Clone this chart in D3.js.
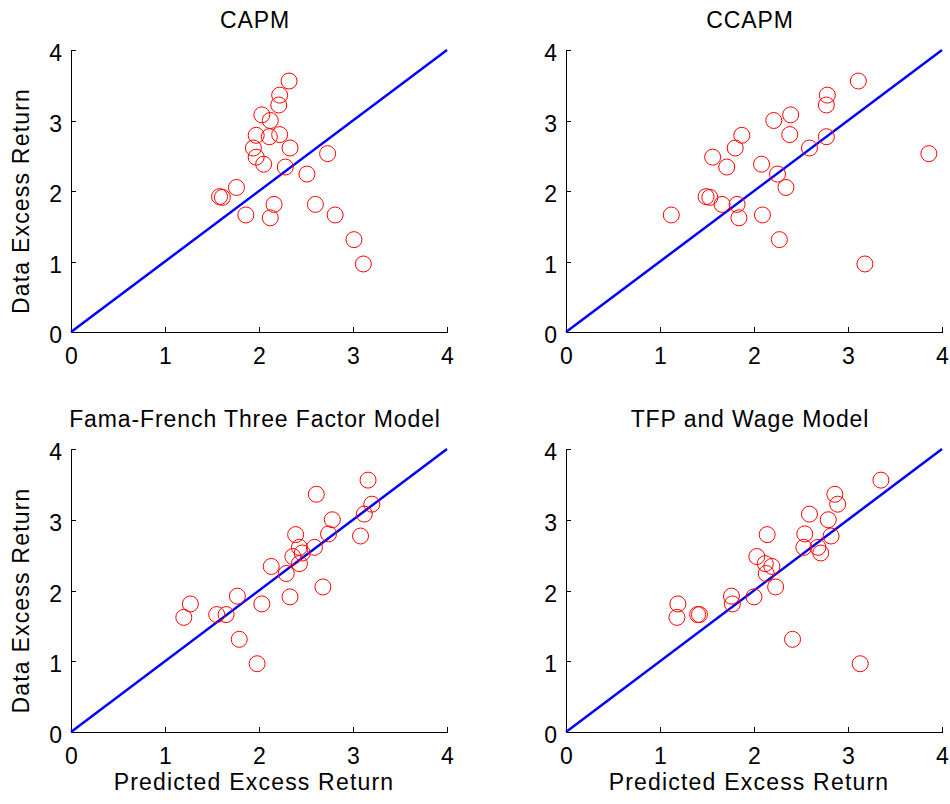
<!DOCTYPE html>
<html>
<head>
<meta charset="utf-8">
<script src="https://cdn.jsdelivr.net/npm/d3@7"></script>
<style>
  body { margin: 0; background: #fff; }
  text { font-family: 'Liberation Sans', Arial, sans-serif; }
</style>
</head>
<body>
<div id="chart"></div>
<script>
// data excess return, shared by the four panels
const dataReturn = [3.56, 3.36, 3.22, 3.08, 3.00, 2.79, 2.77, 2.80, 2.61, 2.61, 2.48, 2.53, 2.38,
  2.34, 2.24, 2.05, 1.92, 1.91, 1.81, 1.81, 1.66, 1.62, 1.66, 1.31, 0.965]

// predicted excess return for each model
const capmPred = [2.32, 2.22, 2.21, 2.03, 2.12, 1.97, 2.11, 2.22, 1.94, 2.33, 1.97, 2.73, 2.05,
  2.28, 2.51, 1.76, 1.58, 1.61, 2.16, 2.60, 1.86, 2.12, 2.81, 3.01, 3.11]
const ccapmPred = [3.11, 2.78, 2.77, 2.39, 2.21, 1.87, 2.77, 2.38, 1.80, 2.59, 1.56, 3.86, 2.08,
  1.71, 2.25, 2.34, 1.49, 1.53, 1.66, 1.82, 1.12, 1.84, 2.09, 2.27, 3.18]
const ffPred = [3.16, 2.61, 3.20, 3.12, 2.78, 2.39, 3.08, 2.74, 2.43, 2.59, 2.36, 2.46, 2.43,
  2.13, 2.29, 2.68, 1.77, 2.33, 1.27, 2.03, 1.55, 1.20, 1.65, 1.79, 1.98]
const tfpPred = [3.35, 2.86, 2.89, 2.59, 2.79, 2.14, 2.82, 2.54, 2.68, 2.53, 2.03, 2.71, 2.12,
  2.19, 2.13, 2.23, 1.76, 2.00, 1.19, 1.77, 1.40, 1.18, 1.42, 2.41, 3.13]

const titles = ['CAPM', 'CCAPM', 'Fama-French Three Factor Model', 'TFP and Wage Model']
const ticks = [0, 1, 2, 3, 4]
const fitLine = [0, 4]

const width = 950
const height = 804

const svg = d3
  .select('#chart')
  .append('svg')
  .attr('width', width)
  .attr('height', height)

const cols = [{ left: 71, right: 447 }, { left: 566, right: 942 }]
const rows = [{ top: 50, bottom: 332 }, { top: 449, bottom: 732 }]

const panels = [
  { title: titles[0], pred: capmPred, col: 0, row: 0 },
  { title: titles[1], pred: ccapmPred, col: 1, row: 0 },
  { title: titles[2], pred: ffPred, col: 0, row: 1 },
  { title: titles[3], pred: tfpPred, col: 1, row: 1 }
]

const font = '23px'

panels.forEach(p => {
  const c = cols[p.col]
  const r = rows[p.row]

  const x = d3.scaleLinear().domain([0, 4]).range([c.left, c.right])
  const y = d3.scaleLinear().domain([0, 4]).range([r.bottom, r.top])

  const g = svg.append('g')

  // axes, ticks pointing inward like matlab
  const xAxis = g
    .append('g')
    .attr('transform', `translate(0,${r.bottom})`)
    .call(d3.axisBottom(x).tickValues(ticks).tickFormat(d3.format('d'))
      .tickSizeInner(-5).tickSizeOuter(0).tickPadding(16))
  const yAxis = g
    .append('g')
    .attr('transform', `translate(${c.left},0)`)
    .call(d3.axisLeft(y).tickValues(ticks).tickFormat(d3.format('d'))
      .tickSizeInner(-5).tickSizeOuter(0).tickPadding(9))

  ;[xAxis, yAxis].forEach(a => {
    a.attr('font-family', null).attr('font-size', null)
    a.selectAll('path, line').attr('stroke', '#000').attr('shape-rendering', 'crispEdges')
    a.selectAll('text').style('font-size', font).attr('fill', '#000')
  })
  yAxis.selectAll('text').attr('dy', '0.46em')

  // 45 degree line
  g.append('line')
    .attr('x1', x(fitLine[0]))
    .attr('y1', y(fitLine[0]))
    .attr('x2', x(fitLine[1]))
    .attr('y2', y(fitLine[1]))
    .attr('stroke', '#0000ff')
    .attr('stroke-width', 2.5)

  g.selectAll('circle')
    .data(p.pred.map((d, i) => ({ pred: d, actual: dataReturn[i] })))
    .enter()
    .append('circle')
    .attr('cx', d => x(d.pred))
    .attr('cy', d => y(d.actual))
    .attr('r', 8)
    .attr('fill', 'none')
    .attr('stroke', '#ff0000')
    .attr('stroke-width', 1)

  g.append('text')
    .attr('x', (c.left + c.right) / 2 - 4)
    .attr('y', r.top - 22)
    .attr('text-anchor', 'middle')
    .style('font-size', font)
    .style('letter-spacing', '0.9px')
    .text(p.title)

  if (p.col === 0) {
    g.append('text')
      .attr('transform', `translate(29,${(r.top + r.bottom) / 2 + 10}) rotate(-90)`)
      .attr('text-anchor', 'middle')
      .style('font-size', font)
      .style('letter-spacing', '1.2px')
      .text('Data Excess Return')
  }
  if (p.row === 1) {
    g.append('text')
      .attr('x', (c.left + c.right) / 2 - 5)
      .attr('y', r.bottom + 58)
      .attr('text-anchor', 'middle')
      .style('font-size', font)
      .style('letter-spacing', '1.2px')
      .text('Predicted Excess Return')
  }
})
</script>
</body>
</html>
